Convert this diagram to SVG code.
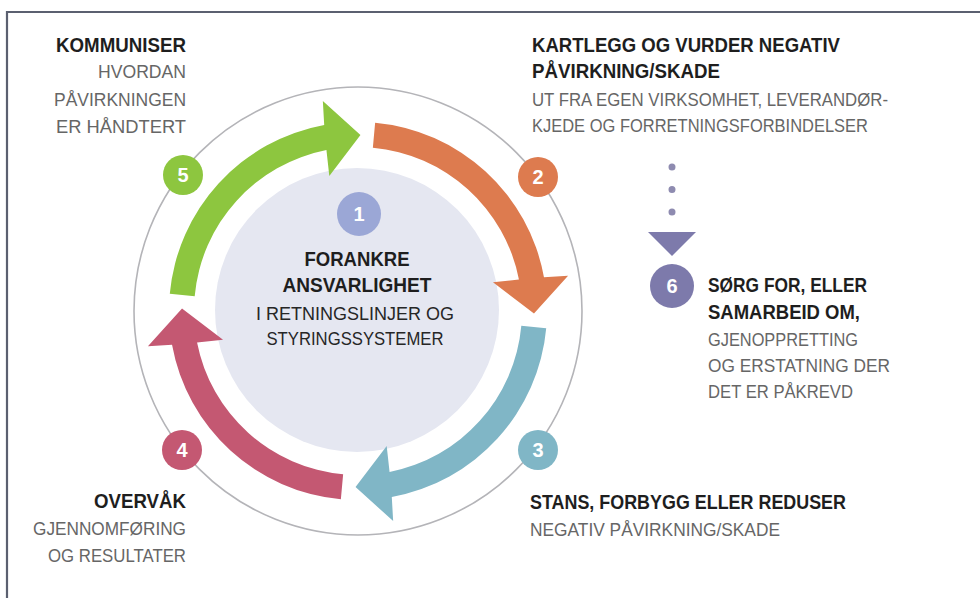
<svg xmlns="http://www.w3.org/2000/svg" width="980" height="598" viewBox="0 0 980 598">
<style>
.b{font-family:"Liberation Sans",Arial,sans-serif;font-weight:bold;font-size:19.5px;fill:#1e1e1e}
.r{font-family:"Liberation Sans",Arial,sans-serif;font-size:18.5px;fill:#666666}
.rd{font-family:"Liberation Sans",Arial,sans-serif;font-size:18.5px;fill:#262626}
.num{font-family:"Liberation Sans",Arial,sans-serif;font-weight:bold;font-size:20px;fill:#ffffff;text-anchor:middle}
.e{text-anchor:end}
.m{text-anchor:middle}
</style>
<defs>
<path id="arr" d="M188.22,17.13 A189,189 0 0 1 33.79,185.96 L35.16,210.08 L-2.46,175.98 L28.69,134.98 L31.57,160.93 A164,164 0 0 0 163.32,14.86 Z"/>
</defs>
<rect width="980" height="598" fill="#ffffff"/>
<path d="M7,598 V12 H980" fill="none" stroke="#5b6070" stroke-width="2.2"/>
<circle cx="358" cy="311" r="224" fill="none" stroke="#b4b4b8" stroke-width="1.6"/>
<g id="node1">
<circle cx="357" cy="310" r="142" fill="#e5e7f1"/>
<circle cx="359" cy="214" r="22" fill="#9ba7d6"/>
<text class="num" x="359" y="221">1</text>
<text class="b m" x="357" y="266" textLength="105" lengthAdjust="spacingAndGlyphs">FORANKRE</text>
<text class="b m" x="357" y="292" textLength="149" lengthAdjust="spacingAndGlyphs">ANSVARLIGHET</text>
<text class="rd m" x="355" y="320" textLength="198" lengthAdjust="spacingAndGlyphs">I RETNINGSLINJER OG</text>
<text class="rd m" x="355" y="345" textLength="177" lengthAdjust="spacingAndGlyphs">STYRINGSSYSTEMER</text>
</g>
<g id="connectors">
<use href="#arr" transform="translate(358,311) rotate(270)" fill="#dd7b4f"/>
<use href="#arr" transform="translate(358,311)" fill="#80b6c6"/>
<use href="#arr" transform="translate(358,311) rotate(90)" fill="#c45872"/>
<use href="#arr" transform="translate(358,311) rotate(180)" fill="#8dc63f"/>
<path d="M672,167 V213" fill="none" stroke="#8e8bb0" stroke-width="7" stroke-linecap="round" stroke-dasharray="0 22.5"/>
<polygon points="648,232 696,232 672,256" fill="#7d7aab"/>
</g>
<g id="node5">
<circle cx="183" cy="175" r="20" fill="#8dc63f"/>
<text class="num" x="183" y="182">5</text>
<text class="b e" x="186" y="52" textLength="130" lengthAdjust="spacingAndGlyphs">KOMMUNISER</text>
<text class="r e" x="186" y="78" textLength="88" lengthAdjust="spacingAndGlyphs">HVORDAN</text>
<text class="r e" x="186" y="106" textLength="132" lengthAdjust="spacingAndGlyphs">PÅVIRKNINGEN</text>
<text class="r e" x="186" y="133" textLength="130" lengthAdjust="spacingAndGlyphs">ER HÅNDTERT</text>
</g>
<g id="node2">
<circle cx="538" cy="177" r="20" fill="#dd7b4f"/>
<text class="num" x="538" y="184">2</text>
<text class="b" x="532" y="52" textLength="308" lengthAdjust="spacingAndGlyphs">KARTLEGG OG VURDER NEGATIV</text>
<text class="b" x="532" y="78" textLength="188" lengthAdjust="spacingAndGlyphs">PÅVIRKNING/SKADE</text>
<text class="r" x="532" y="106" textLength="356" lengthAdjust="spacingAndGlyphs">UT FRA EGEN VIRKSOMHET, LEVERANDØR-</text>
<text class="r" x="532" y="132" textLength="336" lengthAdjust="spacingAndGlyphs">KJEDE OG FORRETNINGSFORBINDELSER</text>
</g>
<g id="node6">
<circle cx="672" cy="286" r="22" fill="#7d7aab"/>
<text class="num" x="672" y="293">6</text>
<text class="b" x="708" y="292" textLength="159" lengthAdjust="spacingAndGlyphs">SØRG FOR, ELLER</text>
<text class="b" x="708" y="319" textLength="152" lengthAdjust="spacingAndGlyphs">SAMARBEID OM,</text>
<text class="r" x="708" y="346" textLength="150" lengthAdjust="spacingAndGlyphs">GJENOPPRETTING</text>
<text class="r" x="708" y="372" textLength="182" lengthAdjust="spacingAndGlyphs">OG ERSTATNING DER</text>
<text class="r" x="708" y="398" textLength="145" lengthAdjust="spacingAndGlyphs">DET ER PÅKREVD</text>
</g>
<g id="node3">
<circle cx="538" cy="450" r="20" fill="#80b6c6"/>
<text class="num" x="538" y="457">3</text>
<text class="b" x="530" y="509" textLength="316" lengthAdjust="spacingAndGlyphs">STANS, FORBYGG ELLER REDUSER</text>
<text class="r" x="530" y="536" textLength="250" lengthAdjust="spacingAndGlyphs">NEGATIV PÅVIRKNING/SKADE</text>
</g>
<g id="node4">
<circle cx="182" cy="450" r="20" fill="#c45872"/>
<text class="num" x="182" y="457">4</text>
<text class="b e" x="186" y="508" textLength="92" lengthAdjust="spacingAndGlyphs">OVERVÅK</text>
<text class="r e" x="186" y="535" textLength="153" lengthAdjust="spacingAndGlyphs">GJENNOMFØRING</text>
<text class="r e" x="186" y="562" textLength="138" lengthAdjust="spacingAndGlyphs">OG RESULTATER</text>
</g>
</svg>
